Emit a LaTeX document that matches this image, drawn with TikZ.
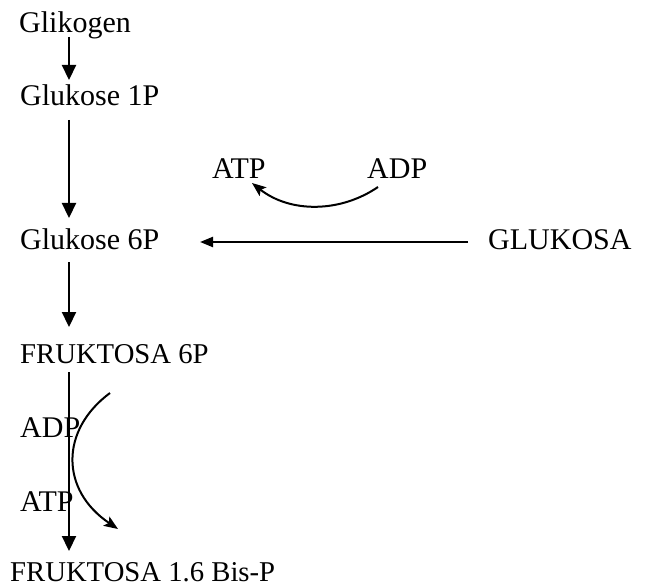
\documentclass[tikz,border=0pt]{standalone}
\usepackage{fontspec}
\setmainfont{Liberation Serif}
\usetikzlibrary{arrows.meta}
\begin{document}
\begin{tikzpicture}[x=1pt,y=-1pt,
  lbl/.style={anchor=base west,inner sep=0pt,font=\fontsize{30}{36}\selectfont},
  caps/.style={lbl,font=\fontsize{28.7}{34}\selectfont},
  bigarr/.style={line width=2.2pt,-{Triangle[length=15pt,width=14pt]}},
  sidearr/.style={line width=2.2pt,-{Triangle[length=13pt,width=10pt]}},
  curvarr/.style={line width=2pt,-{Stealth[length=14pt,width=11pt,inset=3pt]}}]
\useasboundingbox (0,0) rectangle (653,588);

% metabolites
\node[lbl] (glik) at (19,33) {Glikogen};
\node[lbl] (g1p) at (20,106) {Glukose 1P};
\node[lbl] (g6p) at (20,249) {Glukose 6P};
\node[lbl] (glc) at (488,249) {GLUKOSA};
\node[caps] (f6p) at (20,363) {FRUKTOSA 6P};
\node[caps,text depth=0pt] (fbp) at (10,581) {FRUKTOSA 1.6 Bis-P};

% cofactors
\node[lbl] (atpA) at (212,179) {ATP};
\node[lbl] (adpA) at (367,179) {ADP};
\node[lbl] (adpB) at (20,437) {ADP};
\node[lbl] (atpB) at (20,511) {ATP};

% arrow end points
\coordinate (a1s) at (69,37);  \coordinate (a1e) at (69,80);
\coordinate (a2s) at (69,120); \coordinate (a2e) at (69,218);
\coordinate (a3s) at (69,262); \coordinate (a3e) at (69,327);
\coordinate (a4s) at (69,372); \coordinate (a4e) at (69,551);
\coordinate (hs) at (468,242); \coordinate (he) at (200,242);
\coordinate (ts) at (378,187); \coordinate (te) at (252,183);
\coordinate (cs) at (110,393); \coordinate (ce) at (118,529);

% main pathway
\draw[bigarr] (a1s) -- (a1e);
\draw[bigarr] (a2s) -- (a2e);
\draw[bigarr] (a3s) -- (a3e);
\draw[bigarr] (a4s) -- (a4e);
\draw[sidearr] (hs) -- (he);

% cofactor turnover
\draw[curvarr] (ts) .. controls (340,213) and (290,213) .. (te);
\draw[curvarr] (cs) .. controls (60,430) and (60,490) .. (ce);
\end{tikzpicture}
\end{document}
